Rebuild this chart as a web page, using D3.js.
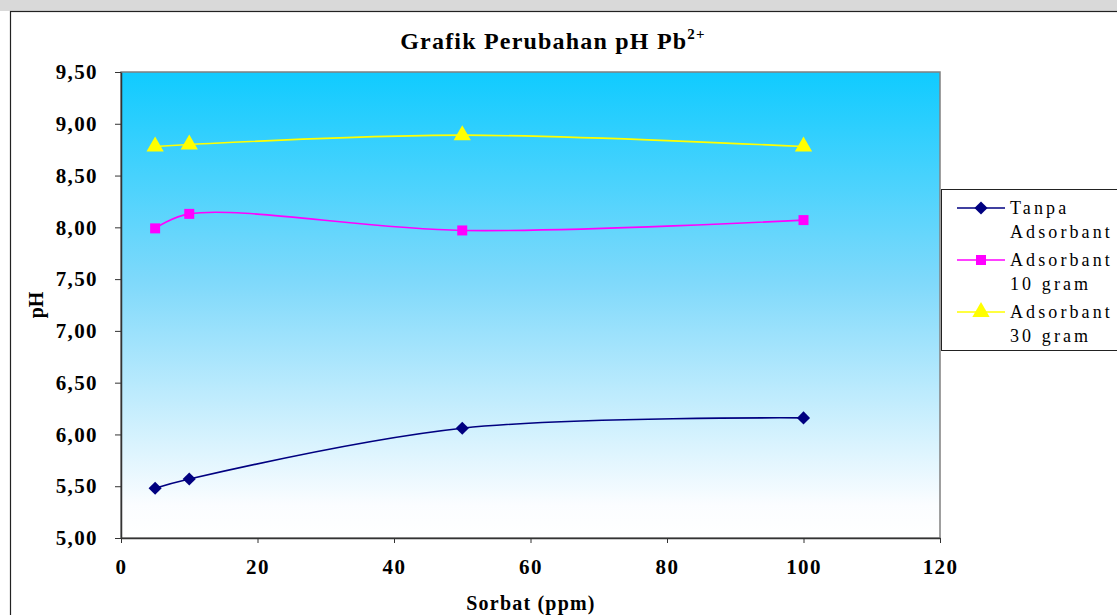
<!DOCTYPE html>
<html>
<head>
<meta charset="utf-8">
<script src="https://cdn.jsdelivr.net/npm/d3@7"></script>
<style>
body{margin:0;background:#fff;}
svg{display:block;}
</style>
</head>
<body>
<script>
// data
var sorbat=[5,10,50,100]
var tanpa=[5.48,5.57,6.06,6.16]
var ads10=[7.99,8.13,7.97,8.07]
var ads30=[8.78,8.80,8.89,8.78]
var yTicks=[5,5.5,6,6.5,7,7.5,8,8.5,9,9.5]
var xTicks=[0,20,40,60,80,100,120]
var seriesNames=[["Tanpa","Adsorbant"],["Adsorbant","10 gram"],["Adsorbant","30 gram"]]

var series=[
  {name:seriesNames[0],vals:tanpa,color:"#000080",shape:d3.symbolDiamond2,size:110},
  {name:seriesNames[1],vals:ads10,color:"#ff00ff",shape:d3.symbolSquare,size:100},
  {name:seriesNames[2],vals:ads30,color:"#ffff00",shape:d3.symbolTriangle,size:130}
]

var W=1117,H=615
var plot={left:121,right:940,top:72,bottom:538}

var svg=d3.select("body").append("svg").attr("width",W).attr("height",H)

// grey strip at the very top (page background)
svg.append("rect").attr("x",0).attr("y",0).attr("width",W).attr("height",11).attr("fill","#d9d9d9")
svg.append("rect").attr("x",10.5).attr("y",11.5).attr("width",W).attr("height",H).attr("fill","#fff")
  .attr("stroke","#222").attr("stroke-width",1.2)

var grad=svg.append("defs").append("linearGradient").attr("id","bg")
  .attr("x1",0).attr("y1",0).attr("x2",0).attr("y2",1)
grad.append("stop").attr("offset","0%").attr("stop-color","#10cbff")
grad.append("stop").attr("offset","45%").attr("stop-color","#7fd9fb")
grad.append("stop").attr("offset","93%").attr("stop-color","#fbfdff")
grad.append("stop").attr("offset","100%").attr("stop-color","#ffffff")

var x=d3.scaleLinear().domain([0,120]).range([plot.left,plot.right])
var y=d3.scaleLinear().domain([5,9.5]).range([plot.bottom,plot.top])

svg.append("rect").attr("x",plot.left).attr("y",plot.top)
  .attr("width",plot.right-plot.left).attr("height",plot.bottom-plot.top)
  .attr("fill","url(#bg)").attr("stroke","#808080").attr("stroke-width",1.5)

var xAxis=svg.append("g").attr("transform","translate(0,"+plot.bottom+")")
  .call(d3.axisBottom(x).tickValues(xTicks).tickSize(5).tickSizeOuter(0).tickPadding(16))
var yAxis=svg.append("g").attr("transform","translate("+plot.left+",0)")
  .call(d3.axisLeft(y).tickValues(yTicks).tickSize(6).tickSizeOuter(0).tickPadding(17)
    .tickFormat(function(d){return d.toFixed(2).replace(".",",")}))
;[xAxis,yAxis].forEach(function(a){
  a.select(".domain").attr("stroke","#333").attr("stroke-width",1.5)
  a.selectAll(".tick line").attr("stroke","#333")
  a.selectAll("text").attr("font-family","Liberation Serif").attr("font-weight","bold")
    .attr("font-size",21).attr("letter-spacing",1.4).attr("fill","#000")
})

var line=d3.line().curve(d3.curveCatmullRom.alpha(0.5))
  .x(function(d,i){return x(sorbat[i])}).y(function(d){return y(d)})

series.forEach(function(s){
  svg.append("path").attr("d",line(s.vals)).attr("fill","none")
    .attr("stroke",s.color).attr("stroke-width",1.6)
  svg.selectAll(null).data(s.vals).enter().append("path")
    .attr("d",d3.symbol().type(s.shape).size(s.size))
    .attr("transform",function(d,i){return "translate("+x(sorbat[i])+","+y(d)+")"})
    .attr("fill",s.color)
})

// title
var t=svg.append("text").attr("x",553).attr("y",49).attr("text-anchor","middle")
  .attr("font-family","Liberation Serif").attr("font-weight","bold").attr("font-size",24)
  .attr("letter-spacing",1.2)
t.append("tspan").text("Grafik Perubahan pH Pb")
t.append("tspan").attr("dy",-10).attr("font-size",15).text("2+")

svg.append("text").attr("x",531).attr("y",610).attr("text-anchor","middle")
  .attr("font-family","Liberation Serif").attr("font-weight","bold").attr("font-size",20)
  .attr("letter-spacing",1.2)
  .text("Sorbat (ppm)")
svg.append("text").attr("transform","translate(43,305) rotate(-90)").attr("text-anchor","middle")
  .attr("font-family","Liberation Serif").attr("font-weight","bold").attr("font-size",20)
  .text("pH")

// legend
var lg=svg.append("g")
lg.append("rect").attr("x",941.5).attr("y",189.5).attr("width",200).attr("height",161)
  .attr("fill","#fff").attr("stroke","#222").attr("stroke-width",1)
series.forEach(function(s,i){
  var ly=208+i*52
  lg.append("line").attr("x1",957).attr("x2",1005).attr("y1",ly).attr("y2",ly)
    .attr("stroke",s.color).attr("stroke-width",1.6)
  lg.append("path").attr("d",d3.symbol().type(s.shape).size(s.size))
    .attr("transform","translate(981,"+ly+")").attr("fill",s.color)
  s.name.forEach(function(n,j){
    lg.append("text").attr("x",1010).attr("y",ly+6+j*24)
      .attr("font-family","Liberation Serif").attr("font-size",18).attr("letter-spacing",3.1)
      .text(n)
  })
})
</script>
</body>
</html>
